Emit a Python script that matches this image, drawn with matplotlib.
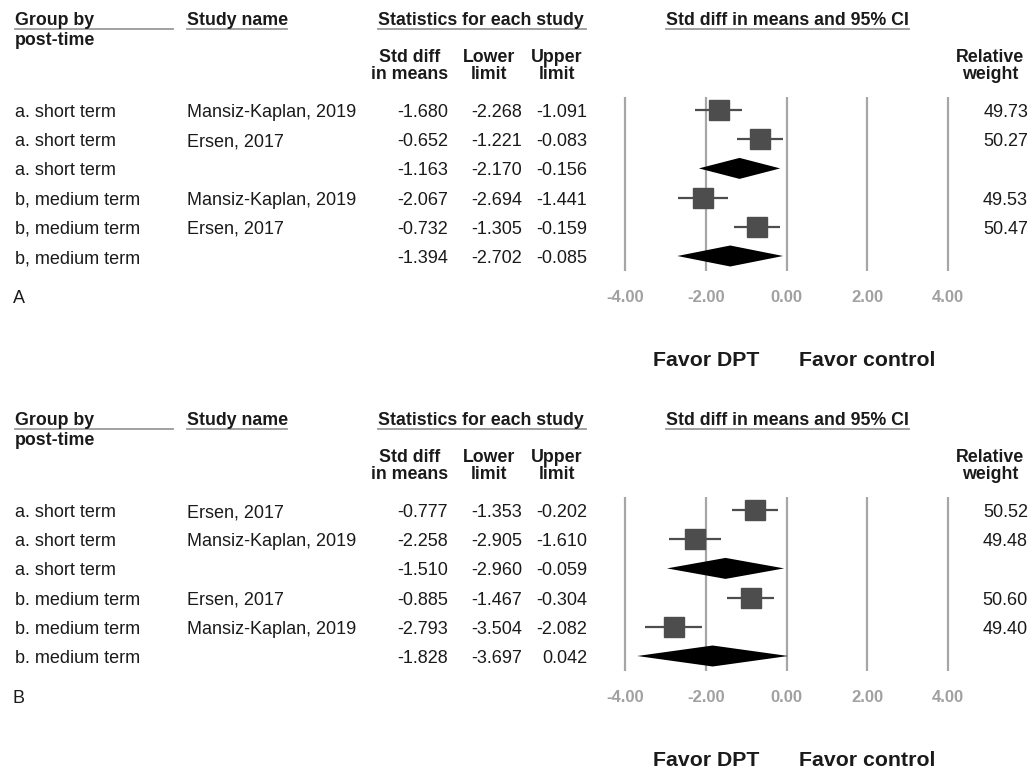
import numpy as np
import matplotlib
matplotlib.use("Agg")
import matplotlib.pyplot as plt
from matplotlib.lines import Line2D
from matplotlib.transforms import blended_transform_factory

plt.rcParams['font.family'] = ['Liberation Sans', 'DejaVu Sans']

W, H = 1033, 771

"###################### Data ######################"
# panel A
groups_a  = ["a. short term", "a. short term", "a. short term",
             "b, medium term", "b, medium term", "b, medium term"]
studies_a = ["Mansiz-Kaplan, 2019", "Ersen, 2017", "",
             "Mansiz-Kaplan, 2019", "Ersen, 2017", ""]
smd_a     = [-1.680, -0.652, -1.163, -2.067, -0.732, -1.394]
lower_a   = [-2.268, -1.221, -2.170, -2.694, -1.305, -2.702]
upper_a   = [-1.091, -0.083, -0.156, -1.441, -0.159, -0.085]
weight_a  = ["49.73", "50.27", "", "49.53", "50.47", ""]
summary_a = [False, False, True, False, False, True]

# panel B
groups_b  = ["a. short term", "a. short term", "a. short term",
             "b. medium term", "b. medium term", "b. medium term"]
studies_b = ["Ersen, 2017", "Mansiz-Kaplan, 2019", "",
             "Ersen, 2017", "Mansiz-Kaplan, 2019", ""]
smd_b     = [-0.777, -2.258, -1.510, -0.885, -2.793, -1.828]
lower_b   = [-1.353, -2.905, -2.960, -1.467, -3.504, -3.697]
upper_b   = [-0.202, -1.610, -0.059, -0.304, -2.082, 0.042]
weight_b  = ["50.52", "49.48", "", "50.60", "49.40", ""]
summary_b = [False, False, True, False, False, True]

xticks = [-4, -2, 0, 2, 4]
xtick_labels = ["-4.00", "-2.00", "0.00", "2.00", "4.00"]

"###################### Style ######################"
txt_c   = '#1a1a1a'
line_c  = '#a6a6a6'
ul_c    = '#9a9a9a'
box_c   = '#4d4d4d'
fs_row  = 13
fs_head = 12.8


def fx(x):
    return x / W


def fy(y):
    return 1 - y / H


def underline(fig, x0, x1, y):
    fig.add_artist(Line2D([fx(x0), fx(x1)], [fy(y), fy(y)], color=ul_c, lw=1.3))


def draw_panel(fig, off, letter, groups, studies, smd, lower, upper, weight, summary):
    row0, dy = 110 + off, 29.2
    top, bot = 97 + off, 271 + off

    # headers
    hk = dict(fontsize=fs_head, fontweight='bold', color=txt_c, va='baseline')
    fig.text(fx(15), fy(25 + off), "Group by", ha='left', **hk)
    fig.text(fx(15), fy(45 + off), "post-time", ha='left', **hk)
    underline(fig, 15, 173, 29 + off)
    fig.text(fx(187), fy(25 + off), "Study name", ha='left', **hk)
    underline(fig, 187, 287, 29 + off)
    fig.text(fx(481), fy(25 + off), "Statistics for each study", ha='center', **hk)
    underline(fig, 378, 586, 29 + off)
    fig.text(fx(787), fy(25 + off), "Std diff in means and 95% CI", ha='center', **hk)
    underline(fig, 666, 909, 29 + off)
    for cx, l1, l2 in [(410, "Std diff", "in means"), (489, "Lower", "limit"),
                       (557, "Upper", "limit"), (990, "Relative", "weight")]:
        fig.text(fx(cx), fy(62 + off), l1, ha='center', **hk)
        fig.text(fx(cx), fy(79 + off), l2, ha='center', **hk)

    # table rows
    rk = dict(fontsize=fs_row, color=txt_c, va='baseline')
    for i in range(len(groups)):
        yb = fy(row0 + dy * i + 7)
        fig.text(fx(15), yb, groups[i], ha='left', **rk)
        fig.text(fx(187), yb, studies[i], ha='left', **rk)
        fig.text(fx(448), yb, "%.3f" % smd[i], ha='right', **rk)
        fig.text(fx(522), yb, "%.3f" % lower[i], ha='right', **rk)
        fig.text(fx(587), yb, "%.3f" % upper[i], ha='right', **rk)
        fig.text(fx(1028), yb, weight[i], ha='right', **rk)
    fig.text(fx(13), fy(303 + off), letter, ha='left', **rk)

    # forest axes, x: 40.375 px per unit centred at 786.5
    ppu = 40.375
    xl = 4.2
    ax = fig.add_axes([fx(786.5 - xl * ppu), fy(bot), 2 * xl * ppu / W, (bot - top) / H])
    ax.set_xlim(-xl, xl)
    ax.set_ylim((bot - row0) / dy, (top - row0) / dy)
    for s in ax.spines.values():
        s.set_visible(False)
    ax.set_yticks([])
    for t in xticks:
        ax.axvline(t, color=line_c, lw=1.6, zorder=1)
    ax.set_xticks(xticks)
    ax.set_xticklabels(xtick_labels, fontsize=12, fontweight='bold', color='#a0a0a0')
    ax.tick_params(axis='x', length=0, pad=14)

    rows = np.arange(len(smd))
    h = 10.5 / dy
    for i in rows:
        if summary[i]:
            ax.fill([lower[i], smd[i], upper[i], smd[i]], [i, i - h, i, i + h],
                    color='black', lw=0, zorder=3)
        else:
            ax.hlines(i, lower[i], upper[i], color=box_c, lw=1.6, zorder=2)
            ax.plot(smd[i], i, marker='s', markersize=14.5, color=box_c,
                    markeredgecolor=box_c, zorder=3)

    tr = blended_transform_factory(ax.transData, fig.transFigure)
    ax.text(-2, fy(366.5 + off), "Favor DPT", transform=tr, ha='center', va='baseline',
            fontsize=15.3, fontweight='bold', color=txt_c)
    ax.text(2, fy(366.5 + off), "Favor control", transform=tr, ha='center', va='baseline',
            fontsize=15.3, fontweight='bold', color=txt_c)
    return ax


fig = plt.figure(figsize=(W / 100, H / 100), dpi=100)
fig.patch.set_facecolor('white')

draw_panel(fig, 0, "A", groups_a, studies_a, smd_a, lower_a, upper_a, weight_a, summary_a)
draw_panel(fig, 400, "B", groups_b, studies_b, smd_b, lower_b, upper_b, weight_b, summary_b)

fig.savefig("out.png", dpi=100)
